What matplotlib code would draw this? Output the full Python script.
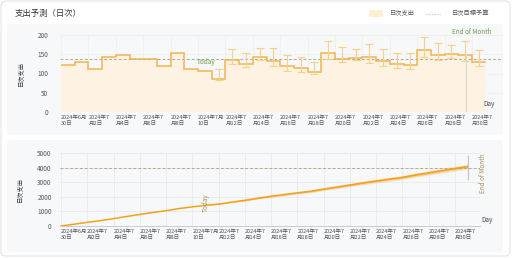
import numpy as np
import matplotlib
matplotlib.use('Agg')
import matplotlib.pyplot as plt
from matplotlib.patches import FancyBboxPatch, Rectangle
from matplotlib.lines import Line2D
from matplotlib.transforms import IdentityTransform, ScaledTranslation

plt.rcParams['font.family'] = ['Noto Sans CJK JP', 'DejaVu Sans']

# ===========================
# Dados
# ===========================

# 2024-06-30 .. 2024-07-30, um valor por dia
daily_spend = [122, 129, 111, 142, 148, 137, 137, 119, 152, 111, 106,
               87, 135, 124, 144, 132, 120, 114, 105, 152, 138, 141,
               144, 133, 125, 122, 161, 148, 150, 147, 130]

# intervalos de previsão (a partir de 2024-07-11)
forecast_start = 11
forecast_low = [82, 125, 116, 135, 119, 107, 103, 99, 137, 129,
                135, 128, 119, 113, 111, 144, 135, 139, 132, 119]
forecast_high = [111, 164, 152, 165, 165, 147, 144, 130, 184, 170,
                 163, 176, 164, 154, 152, 196, 180, 173, 184, 161]

daily_budget = 137
month_budget = 3950

tick_days = list(range(0, 31, 2))
tick_labels = ['2024年6月\n30日', '2024年7\n月2日', '2024年7\n月4日', '2024年7\n月6日',
               '2024年7\n月8日', '2024年7月\n10日', '2024年7\n月12日', '2024年7\n月14日',
               '2024年7\n月16日', '2024年7\n月18日', '2024年7\n月20日', '2024年7\n月22日',
               '2024年7\n月24日', '2024年7\n月26日', '2024年7\n月28日', '2024年7\n月30日']

# ===========================
# Cores
# ===========================
FILL = '#fef3e2'
STEP = '#f0b552'
ERR = '#f9d08a'
DASH = '#b9a88c'
LINE = '#f4a11a'
GREEN = '#6f9a4a'
OLIVE = '#a8925a'
TXT = '#555555'

W, H = 512, 258
fig = plt.figure(figsize=(W / 100, H / 100), dpi=100)
fig.patch.set_facecolor('white')


def box(x0, y0, x1, y1, fc, ec='none', r=4):
    p = FancyBboxPatch((x0, H - y1), x1 - x0, y1 - y0,
                       boxstyle=f'round,pad=0,rounding_size={r}',
                       fc=fc, ec=ec, lw=0.8, transform=IdentityTransform(), zorder=-10)
    fig.add_artist(p)


box(1, 1, 510, 256, 'white', '#e3e5e9', r=5)
box(7, 24, 503, 135, '#f6f8fa', r=4)
box(7, 140, 503, 252, '#f6f8fa', r=4)

# título e legenda
fig.text(15 / W, 1 - 13.5 / H, '支出予測（日次）', fontsize=6, color='#333333', va='center')
fig.add_artist(Rectangle((369 / W, 1 - 16.5 / H), 14 / W, 6 / H, transform=fig.transFigure,
                         fc='#fdefd6', ec='none'))
fig.text(390 / W, 1 - 13.5 / H, '日次支出', fontsize=4.5, color=TXT, va='center')
fig.add_artist(Line2D([426 / W, 440 / W], [1 - 13.5 / H] * 2, transform=fig.transFigure,
                      color='#d8c59c', lw=0.8, ls=(0, (1.2, 1.2))))
fig.text(452 / W, 1 - 13.5 / H, '日次目標予算', fontsize=4.5, color=TXT, va='center')


def style_axes(ax):
    ax.set_facecolor('none')
    for s in ax.spines.values():
        s.set_visible(False)
    ax.tick_params(length=0, labelcolor=TXT)
    ax.tick_params(axis='y', labelsize=4.6)
    ax.set_xticks(tick_days)
    ax.set_xticklabels(tick_labels, ha='left', linespacing=1.2, fontsize=4.0)
    for lab in ax.get_xticklabels():
        lab.set_transform(lab.get_transform() + ScaledTranslation(0.5 / 100, 0, fig.dpi_scale_trans))
    ax.set_ylabel('日次支出', fontsize=4.5, color='#333333')


days = np.arange(len(daily_spend))
edges = np.arange(len(daily_spend) + 1)

# ===========================
# Gráfico diário
# ===========================
ax1 = fig.add_axes([60 / W, 1 - 112 / H, 443 / W, 77 / H])
style_axes(ax1)
ax1.set_xlim((60 - 61) / 13.7, (503 - 61) / 13.7)
ax1.set_ylim(0, 200)
ax1.set_yticks([0, 50, 100, 150, 200])
ax1.tick_params(axis='y', pad=8.5)
ax1.tick_params(axis='x', pad=2.2)
ax1.yaxis.set_label_coords(-0.08, 0.5)
ax1.grid(True, color='#eeeae4', lw=0.4)
ax1.set_axisbelow(True)

ax1.stairs(daily_spend, edges, fill=True, color=FILL, baseline=0, zorder=1)
ax1.stairs(daily_spend, edges, baseline=None, color=STEP, lw=1.1, zorder=3)
ax1.axhline(daily_budget, color=DASH, lw=0.7, ls=(0, (3, 2)), zorder=2)

fc_days = np.arange(forecast_start, forecast_start + len(forecast_low)) + 0.5
fc_vals = np.array(daily_spend[forecast_start:])
low = np.array(forecast_low)
high = np.array(forecast_high)
ax1.errorbar(fc_days, fc_vals, yerr=[fc_vals - low, high - fc_vals], fmt='none',
             ecolor=ERR, elinewidth=0.8, capsize=2.6, capthick=0.8, zorder=4)
ax1.vlines(29.55, 0, 153, color='#d9d9de', lw=0.8, zorder=5)

ax1.text(9.93, 129, 'Today', fontsize=4.6, color=GREEN, va='center', ha='left')
ax1.text(31.4, 207, 'End of Month', fontsize=4.6, color=GREEN, va='center', ha='right', clip_on=False)
ax1.text(30.85, 21, 'Day', fontsize=4.6, color='#444444', style='italic', va='center', ha='left')

# ===========================
# Gráfico acumulado
# ===========================
ax2 = fig.add_axes([60 / W, 1 - 226 / H, 420 / W, 73 / H])
style_axes(ax2)
ax2.set_xlim((60 - 61) / 13.13, (480 - 61) / 13.13)
ax2.set_ylim(0, 5000)
ax2.set_yticks([0, 1000, 2000, 3000, 4000, 5000])
ax2.tick_params(axis='y', pad=6)
ax2.tick_params(axis='x', pad=2.2)
ax2.yaxis.set_label_coords(-0.085, 0.5)
ax2.grid(True, color='#e4e6ea', lw=0.5)
ax2.set_axisbelow(True)
ax2.spines['bottom'].set_visible(True)
ax2.spines['bottom'].set_color('#c9cbcf')
ax2.spines['bottom'].set_linewidth(0.7)

cum_days = np.arange(len(daily_spend) + 1)
cum = np.concatenate([[0], np.cumsum(daily_spend)])

# incerteza acumulada a partir dos intervalos diários
half = (high - low) / 2
sigma = np.zeros(len(cum))
sigma[forecast_start + 1:] = np.sqrt(np.cumsum(half ** 2))
for k, a in [(2.0, 0.12), (1.5, 0.15), (1.0, 0.22), (0.5, 0.3)]:
    ax2.fill_between(cum_days, cum - k * sigma, cum + k * sigma, color=LINE, alpha=a, lw=0, zorder=2)
ax2.plot(cum_days, cum, color=LINE, lw=1.1, zorder=3)
ax2.axhline(month_budget, color=DASH, lw=0.7, ls=(0, (3, 2)), zorder=2)
ax2.vlines(31.0, 3150, 4860, color='#bfc0c5', lw=0.8, zorder=4)

ax2.text(11.04, 1575, 'Today', fontsize=4.6, color=OLIVE, rotation=90, va='center', ha='center')
ax2.text(32.14, 3630, 'End of Month', fontsize=4.6, color=OLIVE, rotation=90,
         va='center', ha='center', clip_on=False)
ax2.text(1.003, 0.08, 'Day', transform=ax2.transAxes, fontsize=4.6, color='#444444',
         style='italic', va='center', ha='left')

fig.savefig('out.png', dpi=100)
